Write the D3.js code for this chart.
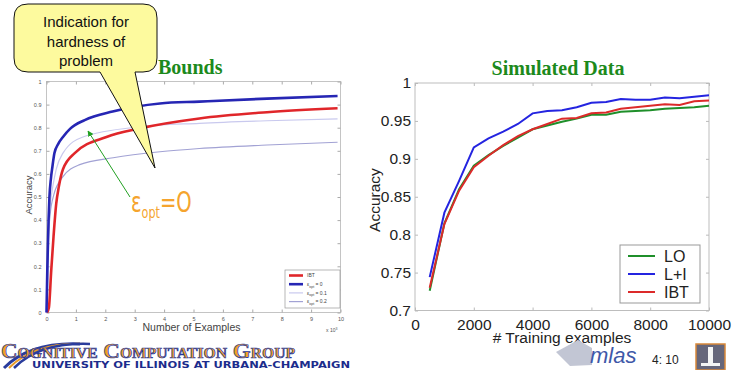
<!DOCTYPE html>
<html>
<head>
<meta charset="utf-8">
<script src="https://cdnjs.cloudflare.com/ajax/libs/d3/7.8.5/d3.min.js"></script>
<style>
  body { margin: 0; background: #fff; }
  svg { display: block; font-family: "Liberation Sans", Arial, sans-serif; }
</style>
</head>
<body>
<svg id="slide" width="733" height="370"></svg>
<script>
// ---------- left chart: "Bounds" (x in thousands of examples) ----------
var ibtX  = [0.02, 0.08, 0.16, 0.24, 0.33, 0.42, 0.56, 0.96, 2.04, 3.17, 5.2, 7.5, 9.9];
var ibtY  = [0, 0.02, 0.18, 0.33, 0.47, 0.545, 0.62, 0.69, 0.76, 0.797, 0.84, 0.867, 0.884];
var eps0X = [0, 0.03, 0.07, 0.1, 0.15, 0.2, 0.27, 0.4, 0.56, 0.8, 1.3, 2.25, 3.86, 5.2, 7.5, 9.9];
var eps0Y = [0, 0.2, 0.4, 0.5, 0.58, 0.63, 0.69, 0.73, 0.76, 0.795, 0.833, 0.87, 0.905, 0.913, 0.926, 0.937];
var eps1X = [0.02, 0.05, 0.13, 0.22, 0.33, 0.56, 1.24, 3.17, 5.2, 7.5, 9.9];
var eps1Y = [0, 0.33, 0.47, 0.55, 0.62, 0.69, 0.76, 0.804, 0.819, 0.83, 0.838];
var eps2X = [0.02, 0.06, 0.12, 0.25, 0.56, 1.13, 2.27, 3.86, 5.2, 7.5, 9.9];
var eps2Y = [0, 0.3, 0.42, 0.51, 0.588, 0.64, 0.67, 0.696, 0.71, 0.725, 0.737];
var leftSeries = ["IBT", "eps0", "eps1", "eps2"];
var leftLegend = ["IBT", "0", "0.1", "0.2"];

// ---------- right chart: "Simulated Data" ----------
var trainSizes = [500, 1000, 1500, 2000, 2500, 3000, 3500, 4000, 4500, 5000,
                  5500, 6000, 6500, 7000, 7500, 8000, 8500, 9000, 9500, 10000];
var loAcc  = [0.726, 0.815, 0.860, 0.891, 0.905, 0.917, 0.928, 0.939, 0.944, 0.949,
              0.953, 0.958, 0.958, 0.962, 0.963, 0.964, 0.966, 0.967, 0.968, 0.970];
var liAcc  = [0.744, 0.829, 0.871, 0.915, 0.927, 0.936, 0.946, 0.960, 0.963, 0.964,
              0.968, 0.974, 0.975, 0.979, 0.978, 0.978, 0.981, 0.980, 0.982, 0.984];
var ibtAcc = [0.730, 0.814, 0.858, 0.889, 0.904, 0.918, 0.930, 0.939, 0.946, 0.953,
              0.954, 0.960, 0.961, 0.966, 0.968, 0.970, 0.972, 0.971, 0.976, 0.977];
var rightNames = ["LO", "L+I", "IBT"];
var rightYTicks = [0.7, 0.75, 0.8, 0.85, 0.9, 0.95, 1];
var rightXTicks = [0, 2000, 4000, 6000, 8000, 10000];

var svg = d3.select("#slide");
var fmt = d3.format("~g");

function styleAxis(g, color, size, fill) {
  g.select(".domain").remove();
  g.selectAll(".tick line").attr("stroke", color);
  g.selectAll(".tick text").attr("font-size", size).attr("fill", fill)
    .attr("font-family", "Liberation Sans, Arial, sans-serif");
}

/////////////// LEFT CHART ///////////////
var L = {left: 46.5, right: 340.5, top: 81.5, bottom: 312.5};
var lx = d3.scaleLinear().domain([0, 10]).range([L.left, L.right]);
var ly = d3.scaleLinear().domain([0, 1]).range([L.bottom, L.top]);
var gl = svg.append("g");

gl.append("rect").attr("x", L.left).attr("y", L.top)
  .attr("width", L.right - L.left).attr("height", L.bottom - L.top)
  .attr("fill", "#fff").attr("stroke", "#c4c4c4");

gl.append("g").attr("transform", "translate(0," + L.bottom + ")")
  .call(d3.axisBottom(lx).ticks(10).tickSize(-3).tickPadding(5))
  .call(styleAxis, "#aaa", "5.5px", "#555");
gl.append("g").attr("transform", "translate(0," + L.top + ")")
  .call(d3.axisTop(lx).ticks(10).tickSize(-3).tickFormat(""))
  .call(styleAxis, "#aaa", "5px", "#555");
gl.append("g").attr("transform", "translate(" + L.left + ",0)")
  .call(d3.axisLeft(ly).ticks(10).tickSize(-3).tickPadding(5).tickFormat(fmt))
  .call(styleAxis, "#aaa", "5.5px", "#555");
gl.append("g").attr("transform", "translate(" + L.right + ",0)")
  .call(d3.axisRight(ly).ticks(10).tickSize(-3).tickFormat(""))
  .call(styleAxis, "#aaa", "5px", "#555");

var leftData = {
  IBT:  d3.zip(ibtX, ibtY),
  eps0: d3.zip(eps0X, eps0Y),
  eps1: d3.zip(eps1X, eps1Y),
  eps2: d3.zip(eps2X, eps2Y)
};
var leftColor = {IBT: "#e0262a", eps0: "#2626b4", eps1: "#c9c9ee", eps2: "#a2a2d4"};
var leftWidth = {IBT: 2.6, eps0: 2.6, eps1: 1.2, eps2: 1.2};
var lline = d3.line().x(function(d){ return lx(d[0]); }).y(function(d){ return ly(d[1]); })
  .curve(d3.curveMonotoneX);

["eps2", "eps1", "IBT", "eps0"].forEach(function(k) {
  gl.append("path").datum(leftData[k]).attr("d", lline)
    .attr("fill", "none").attr("stroke", leftColor[k]).attr("stroke-width", leftWidth[k]);
});

gl.append("text").attr("x", (L.left + L.right) / 2 - 2).attr("y", 331)
  .attr("text-anchor", "middle").attr("font-size", "10.5px").attr("fill", "#444")
  .text("Number of Examples");
gl.append("text").attr("transform", "translate(32,195) rotate(-90)")
  .attr("text-anchor", "middle").attr("font-size", "9.5px").attr("fill", "#444")
  .text("Accuracy");
var xe = gl.append("text").attr("x", 326).attr("y", 332).attr("font-size", "5px").attr("fill", "#555");
xe.append("tspan").text("x 10");
xe.append("tspan").attr("dy", -2).attr("font-size", "3.5px").text("3");

// legend
var lg = gl.append("g").attr("transform", "translate(285,270)");
lg.append("rect").attr("width", 55).attr("height", 38).attr("fill", "#fff").attr("stroke", "#999").attr("stroke-width", 0.7);
leftSeries.forEach(function(k, i) {
  var yy = 5.5 + i * 8.7;
  lg.append("line").attr("x1", 4).attr("x2", 18).attr("y1", yy).attr("y2", yy)
    .attr("stroke", leftColor[k]).attr("stroke-width", leftWidth[k]);
  var t = lg.append("text").attr("x", 22).attr("y", yy + 1.8).attr("font-size", "5px").attr("fill", "#444");
  if (k === "IBT") { t.text("IBT"); }
  else {
    t.append("tspan").text("\u03b5");
    t.append("tspan").attr("dy", 1.5).attr("font-size", "3.5px").text("opt");
    t.append("tspan").attr("dy", -1.5).text(" = " + leftLegend[i]);
  }
});

svg.append("text").attr("x", 158).attr("y", 74).attr("font-family", "Liberation Serif, Times New Roman, serif")
  .attr("font-weight", "bold").attr("font-size", "20px").attr("fill", "#1c8a1c").text("Bounds");

/////////////// RIGHT CHART ///////////////
var R = {left: 415, right: 709, top: 83, bottom: 310.5};
var rx = d3.scaleLinear().domain([0, 10000]).range([R.left, R.right]);
var ry = d3.scaleLinear().domain([0.7, 1]).range([R.bottom, R.top]);
var gr = svg.append("g");

gr.append("rect").attr("x", R.left).attr("y", R.top)
  .attr("width", R.right - R.left).attr("height", R.bottom - R.top)
  .attr("fill", "#fff").attr("stroke", "#bdbdbd");

gr.append("g").attr("transform", "translate(0," + R.bottom + ")")
  .call(d3.axisBottom(rx).tickValues(rightXTicks).tickSize(-3).tickPadding(8).tickFormat(d3.format("d")))
  .call(styleAxis, "#bbb", "15.5px", "#222");
gr.append("g").attr("transform", "translate(0," + R.top + ")")
  .call(d3.axisTop(rx).tickValues(rightXTicks).tickSize(-3).tickFormat(""))
  .call(styleAxis, "#bbb", "5px", "#222");
gr.append("g").attr("transform", "translate(" + R.left + ",0)")
  .call(d3.axisLeft(ry).tickValues(rightYTicks).tickSize(-3).tickPadding(4).tickFormat(fmt))
  .call(styleAxis, "#bbb", "15.5px", "#222");
gr.append("g").attr("transform", "translate(" + R.right + ",0)")
  .call(d3.axisRight(ry).tickValues(rightYTicks).tickSize(-3).tickFormat(""))
  .call(styleAxis, "#bbb", "5px", "#222");

var rightVals = [loAcc, liAcc, ibtAcc];
var rightColor = ["#1f8f2a", "#2424e0", "#dc2a2a"];
var rline = d3.line().x(function(d){ return rx(d[0]); }).y(function(d){ return ry(d[1]); });
rightVals.forEach(function(v, i) {
  gr.append("path").datum(d3.zip(trainSizes, v)).attr("d", rline)
    .attr("fill", "none").attr("stroke", rightColor[i]).attr("stroke-width", 2);
});

gr.append("text").attr("x", 562).attr("y", 343).attr("text-anchor", "middle")
  .attr("font-size", "15.5px").attr("fill", "#222").text("# Training examples");
gr.append("text").attr("transform", "translate(380,200) rotate(-90)").attr("text-anchor", "middle")
  .attr("font-size", "15.5px").attr("fill", "#222").text("Accuracy");

var rg = gr.append("g").attr("transform", "translate(620,245)");
rg.append("rect").attr("width", 80).attr("height", 58).attr("fill", "#fff").attr("stroke", "#999");
rightNames.forEach(function(n, i) {
  var yy = 11 + i * 18;
  rg.append("line").attr("x1", 8).attr("x2", 35).attr("y1", yy).attr("y2", yy)
    .attr("stroke", rightColor[i]).attr("stroke-width", 2);
  rg.append("text").attr("x", 44).attr("y", yy + 5.5).attr("font-size", "16px").attr("fill", "#222").text(n);
});

svg.append("text").attr("x", 558).attr("y", 75).attr("text-anchor", "middle")
  .attr("font-family", "Liberation Serif, Times New Roman, serif")
  .attr("font-weight", "bold").attr("font-size", "20px").attr("fill", "#1c8a1c").text("Simulated Data");

/////////////// ANNOTATIONS ///////////////
svg.append("path")
  .attr("d", "M28,4 H143 Q157,4 157,18 V58 Q157,72 143,72 H135 L155,168 L100,72 H28 Q14,72 14,58 V18 Q14,4 28,4 Z")
  .attr("fill", "#fdfa9e").attr("stroke", "#111").attr("stroke-width", 1);
["Indication for", "hardness of", "problem"].forEach(function(s, i) {
  svg.append("text").attr("x", 86).attr("y", 27 + i * 19.5).attr("text-anchor", "middle")
    .attr("font-size", "15px").attr("fill", "#111").text(s);
});

svg.append("defs").append("marker").attr("id", "ah").attr("viewBox", "0 0 10 10")
  .attr("refX", 9).attr("refY", 5).attr("markerWidth", 6).attr("markerHeight", 6)
  .attr("orient", "auto").append("path").attr("d", "M0,0 L10,5 L0,10 Z").attr("fill", "#22a022");
svg.append("line").attr("x1", 130).attr("y1", 197).attr("x2", 88).attr("y2", 131)
  .attr("stroke", "#22a022").attr("stroke-width", 1).attr("marker-end", "url(#ah)");

// epsilon_opt = O, drawn a bit condensed like the slide font
var ep = svg.append("text").attr("transform", "translate(131,212) scale(0.7,1)").attr("fill", "#f5a42e")
  .attr("font-family", "DejaVu Sans, sans-serif");
ep.append("tspan").attr("font-size", "28px").text("\u03b5");
ep.append("tspan").attr("font-size", "16px").attr("dy", 6).text("opt");
ep.append("tspan").attr("font-size", "28px").attr("dy", -6).text("=O");

/////////////// FOOTER ///////////////
var sw = svg.append("g");
[[0, "#2a3c9c", 3], [5, "#e89a28", 2], [10, "#2a3c9c", 2.5]].forEach(function(a) {
  sw.append("path").attr("d", "M" + (4 + a[0]) + ",368 Q" + (30 + a[0]) + ",342 " + (80 + a[0]) + ",344")
    .attr("fill", "none").attr("stroke", a[1]).attr("stroke-width", a[2]);
});
svg.append("text").attr("x", 1).attr("y", 358).attr("textLength", 294).attr("lengthAdjust", "spacingAndGlyphs")
  .attr("font-family", "Liberation Serif, serif").attr("font-weight", "bold").attr("font-size", "22px")
  .attr("font-variant", "small-caps").attr("fill", "#f2a024").attr("stroke", "#2437a0").attr("stroke-width", 0.7)
  .text("Cognitive Computation Group");
svg.append("text").attr("x", 32).attr("y", 368).attr("textLength", 318).attr("lengthAdjust", "spacingAndGlyphs")
  .attr("font-family", "DejaVu Sans, sans-serif").attr("font-weight", "bold").attr("font-size", "8.5px")
  .attr("fill", "#1c2c8c").text("UNIVERSITY OF ILLINOIS AT URBANA-CHAMPAIGN");

// mlas logo
svg.append("path").attr("d", "M556,352 L578,340 L592,348 L592,365 L570,366 Z").attr("fill", "#c2c6d4");
svg.append("text").attr("x", 590).attr("y", 363).attr("font-size", "22px").attr("font-style", "italic")
  .attr("fill", "#3e58a8").text("mlas");

svg.append("text").attr("x", 652).attr("y", 364).attr("font-size", "12px").attr("fill", "#222").text("4: 10");
svg.append("rect").attr("x", 696).attr("y", 344).attr("width", 29).attr("height", 26)
  .attr("fill", "#66667a").attr("stroke", "#d8883a").attr("stroke-width", 1.5);
svg.append("rect").attr("x", 708).attr("y", 347).attr("width", 5).attr("height", 16).attr("fill", "#f4f4f4");
svg.append("rect").attr("x", 701).attr("y", 363).attr("width", 19).attr("height", 3).attr("fill", "#f4f4f4");
</script>
</body>
</html>
